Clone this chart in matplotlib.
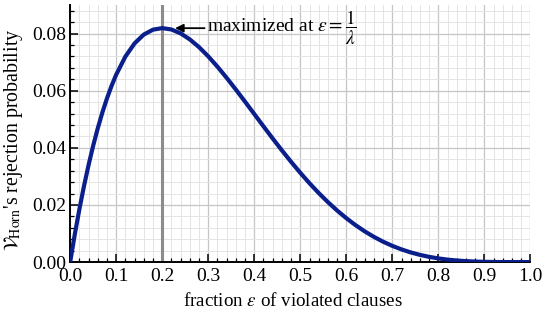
import numpy as np
import matplotlib
matplotlib.use('Agg')
import matplotlib.pyplot as plt
from matplotlib.ticker import MultipleLocator

plt.rcParams['font.family'] = ['Liberation Serif', 'DejaVu Serif']
plt.rcParams['mathtext.fontset'] = 'stix'

# fraction of violated clauses and rejection probability
eps = [0.0, 0.01, 0.02, 0.03, 0.04, 0.05, 0.06, 0.07, 0.08, 0.09,
       0.10, 0.12, 0.14, 0.16, 0.18, 0.20, 0.22, 0.24, 0.26, 0.28,
       0.30, 0.32, 0.34, 0.36, 0.38, 0.40, 0.42, 0.44, 0.46, 0.48,
       0.50, 0.52, 0.54, 0.56, 0.58, 0.60, 0.62, 0.64, 0.66, 0.68,
       0.70, 0.72, 0.74, 0.76, 0.78, 0.80, 0.82, 0.84, 0.86, 0.88,
       0.90, 0.92, 0.94, 0.96, 1.00]
prob = [0.0, 0.00961, 0.01845, 0.02656, 0.03397, 0.04073, 0.04684, 0.05237, 0.05731, 0.06172,
        0.06561, 0.07196, 0.07658, 0.07966, 0.08138, 0.08192, 0.08144, 0.08007, 0.07797, 0.07525,
        0.07203, 0.06842, 0.06451, 0.06040, 0.05615, 0.05184, 0.04753, 0.04327, 0.03911, 0.03510,
        0.03125, 0.02760, 0.02418, 0.02099, 0.01805, 0.01536, 0.01293, 0.01075, 0.00882, 0.00713,
        0.00567, 0.00443, 0.00338, 0.00252, 0.00183, 0.00128, 0.00086, 0.00055, 0.00033, 0.00018,
        0.00009, 0.00003, 0.00001, 0.0, 0.0]
eps_max = 0.2
prob_max = 0.0819

fig = plt.figure(figsize=(5.48, 3.15), dpi=100)
ax = fig.add_axes([0.128, 0.168, 0.84, 0.816])

ax.plot(eps, prob, color='#0b1f8c', linewidth=3.0, zorder=3,
        solid_joinstyle='round', solid_capstyle='butt')
ax.axvline(eps_max, color='#8c8c8c', linewidth=2.2, zorder=2)

ax.annotate(r'maximized at $\varepsilon = \dfrac{1}{\lambda}$',
            xy=(0.228, prob_max), xytext=(0.298, prob_max),
            fontsize=14, va='center',
            arrowprops=dict(arrowstyle='-|>', color='black', lw=1.3,
                            mutation_scale=12, shrinkA=0, shrinkB=0))

ax.set_xlim(0, 1)
ax.set_ylim(0, 0.09)
ax.xaxis.set_major_locator(MultipleLocator(0.1))
ax.xaxis.set_minor_locator(MultipleLocator(0.02))
ax.yaxis.set_major_locator(MultipleLocator(0.02))
ax.yaxis.set_minor_locator(MultipleLocator(0.004))
ax.xaxis.set_major_formatter(plt.FormatStrFormatter('%.1f'))
ax.yaxis.set_major_formatter(plt.FormatStrFormatter('%.2f'))

ax.grid(True, which='major', color='#c6c6c6', linewidth=0.9)
ax.grid(True, which='minor', color='#e4e4e4', linewidth=0.7)
ax.set_axisbelow(True)

for s in ['top', 'right']:
    ax.spines[s].set_visible(False)
for s in ['left', 'bottom']:
    ax.spines[s].set_linewidth(1.4)

ax.tick_params(which='both', direction='in', top=False, right=False, labelsize=14)
ax.tick_params(axis='x', pad=4)
ax.tick_params(axis='y', pad=3)
ax.tick_params(which='major', length=6, width=1.1)
ax.tick_params(which='minor', length=3, width=0.9)

ax.set_xlabel(r'fraction $\varepsilon$ of violated clauses', fontsize=13.7)
ax.xaxis.set_label_coords(0.483, -0.115)
ax.set_ylabel(r"$\mathcal{V}_{\mathrm{Horn}}$'s rejection probability", fontsize=14.3)
ax.yaxis.set_label_coords(-0.098, 0.475)

fig.savefig('out.png', dpi=100)
